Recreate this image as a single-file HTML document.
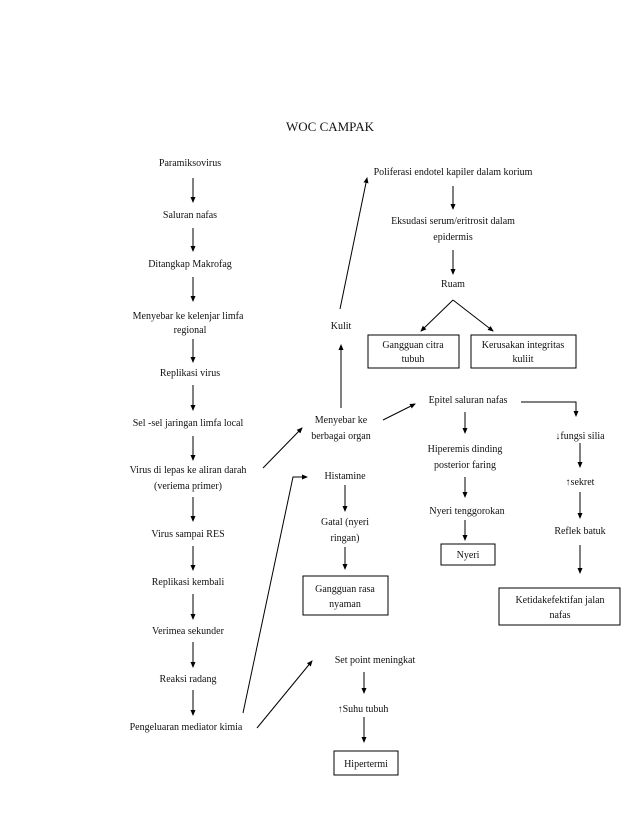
<!DOCTYPE html>
<html><head><meta charset="utf-8"><style>
html,body{margin:0;padding:0;background:#fff;}
svg{display:block;}
text{font-family:"Liberation Serif",serif;font-size:10px;fill:#111;text-anchor:middle;}
.l{stroke:#000;stroke-width:1;fill:none;}
.b{stroke:#000;stroke-width:1;fill:#fff;}
</style></head><body>
<svg width="638" height="826" viewBox="0 0 638 826">
<defs><marker id="a" markerWidth="6" markerHeight="6" refX="5" refY="3" orient="auto" markerUnits="userSpaceOnUse"><path d="M0,0.5 L6,3 L0,5.5 z" fill="#000"/></marker></defs>
<text x="330" y="131" style="font-size:13px">WOC CAMPAK</text>
<!-- left column -->
<text x="190" y="166">Paramiksovirus</text>
<text x="190" y="218">Saluran nafas</text>
<text x="190" y="267">Ditangkap Makrofag</text>
<text x="188" y="319">Menyebar ke kelenjar limfa</text>
<text x="190" y="333">regional</text>
<text x="190" y="376">Replikasi virus</text>
<text x="188" y="426">Sel -sel jaringan limfa local</text>
<text x="188" y="473">Virus di lepas ke aliran darah</text>
<text x="188" y="489">(veriema primer)</text>
<text x="188" y="537">Virus sampai RES</text>
<text x="188" y="585">Replikasi kembali</text>
<text x="188" y="634">Verimea sekunder</text>
<text x="188" y="682">Reaksi radang</text>
<text x="186" y="730">Pengeluaran mediator kimia</text>
<g class="l">
<line x1="193" y1="178" x2="193" y2="202" marker-end="url(#a)"/>
<line x1="193" y1="228" x2="193" y2="251" marker-end="url(#a)"/>
<line x1="193" y1="277" x2="193" y2="301" marker-end="url(#a)"/>
<line x1="193" y1="339" x2="193" y2="362" marker-end="url(#a)"/>
<line x1="193" y1="385" x2="193" y2="410" marker-end="url(#a)"/>
<line x1="193" y1="436" x2="193" y2="460" marker-end="url(#a)"/>
<line x1="193" y1="497" x2="193" y2="521" marker-end="url(#a)"/>
<line x1="193" y1="546" x2="193" y2="570" marker-end="url(#a)"/>
<line x1="193" y1="594" x2="193" y2="619" marker-end="url(#a)"/>
<line x1="193" y1="642" x2="193" y2="667" marker-end="url(#a)"/>
<line x1="193" y1="690" x2="193" y2="715" marker-end="url(#a)"/>
<!-- cross links -->
<line x1="263" y1="468" x2="302" y2="428" marker-end="url(#a)"/>
<polyline points="243,713 293,477 307,477" marker-end="url(#a)"/>
<line x1="257" y1="728" x2="312" y2="661" marker-end="url(#a)"/>
<line x1="341" y1="408" x2="341" y2="345" marker-end="url(#a)"/>
<line x1="340" y1="309" x2="367" y2="178" marker-end="url(#a)"/>
<line x1="383" y1="420" x2="415" y2="404" marker-end="url(#a)"/>
<!-- middle -->
<line x1="345" y1="485" x2="345" y2="511" marker-end="url(#a)"/>
<line x1="345" y1="547" x2="345" y2="569" marker-end="url(#a)"/>
<line x1="364" y1="672" x2="364" y2="693" marker-end="url(#a)"/>
<line x1="364" y1="717" x2="364" y2="742" marker-end="url(#a)"/>
<!-- right top -->
<line x1="453" y1="186" x2="453" y2="209" marker-end="url(#a)"/>
<line x1="453" y1="250" x2="453" y2="274" marker-end="url(#a)"/>
<line x1="453" y1="300" x2="421" y2="331" marker-end="url(#a)"/>
<line x1="453" y1="300" x2="493" y2="331" marker-end="url(#a)"/>
<!-- epitel -->
<line x1="465" y1="412" x2="465" y2="433" marker-end="url(#a)"/>
<line x1="465" y1="477" x2="465" y2="497" marker-end="url(#a)"/>
<line x1="465" y1="520" x2="465" y2="540" marker-end="url(#a)"/>
<polyline points="521,402 576,402 576,416" marker-end="url(#a)"/>
<line x1="580" y1="443" x2="580" y2="467" marker-end="url(#a)"/>
<line x1="580" y1="492" x2="580" y2="518" marker-end="url(#a)"/>
<line x1="580" y1="545" x2="580" y2="573" marker-end="url(#a)"/>
</g>
<text x="341" y="329">Kulit</text>
<text x="341" y="423">Menyebar ke</text>
<text x="341" y="439">berbagai organ</text>
<text x="345" y="479">Histamine</text>
<text x="345" y="525">Gatal (nyeri</text>
<text x="345" y="541">ringan)</text>
<rect class="b" x="303" y="576" width="85" height="39"/>
<text x="345" y="592">Gangguan rasa</text>
<text x="345" y="607">nyaman</text>
<text x="375" y="663">Set point meningkat</text>
<text x="363" y="712">↑Suhu tubuh</text>
<rect class="b" x="334" y="751" width="64" height="24"/>
<text x="366" y="767">Hipertermi</text>
<text x="453" y="175">Poliferasi endotel kapiler dalam korium</text>
<text x="453" y="224">Eksudasi serum/eritrosit dalam</text>
<text x="453" y="240">epidermis</text>
<text x="453" y="287">Ruam</text>
<rect class="b" x="368" y="335" width="91" height="33"/>
<text x="413" y="348">Gangguan citra</text>
<text x="413" y="362">tubuh</text>
<rect class="b" x="471" y="335" width="105" height="33"/>
<text x="523" y="348">Kerusakan integritas</text>
<text x="523" y="362">kuliit</text>
<text x="468" y="403">Epitel saluran nafas</text>
<text x="465" y="452">Hiperemis dinding</text>
<text x="465" y="468">posterior faring</text>
<text x="467" y="514">Nyeri tenggorokan</text>
<rect class="b" x="441" y="544" width="54" height="21"/>
<text x="468" y="558">Nyeri</text>
<text x="580" y="439">↓fungsi silia</text>
<text x="580" y="485">↑sekret</text>
<text x="580" y="534">Reflek batuk</text>
<rect class="b" x="499" y="588" width="121" height="37"/>
<text x="560" y="603">Ketidakefektifan jalan</text>
<text x="560" y="618">nafas</text>
</svg>
</body></html>
